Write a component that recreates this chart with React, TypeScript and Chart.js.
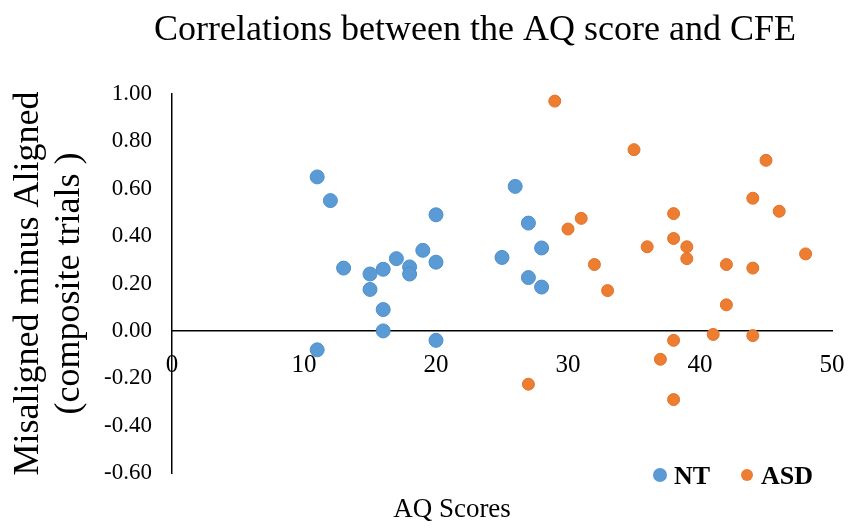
import React, { useEffect, useRef } from "react";
import { Chart, registerables } from "chart.js";

Chart.register(...registerables);

const chartTitle = "Correlations between the AQ score and CFE";
const xAxisTitle = "AQ Scores";
const yAxisTitle = ["Misaligned minus Aligned", "(composite trials )"];
const seriesNames = ["NT", "ASD"];

const ntAQ = [11, 12, 13, 15, 15, 16, 16, 16, 17, 18, 18, 19, 20, 20, 20, 11, 25, 26, 27, 28, 27, 28];
const ntCFE = [0.65, 0.55, 0.265, 0.24, 0.175, 0.26, 0.09, 0.0, 0.305, 0.27, 0.24, 0.34, 0.49, 0.29, -0.04, -0.08, 0.31, 0.61, 0.455, 0.35, 0.225, 0.185];

const asdAQ = [29, 35, 45, 44, 46, 31, 30, 38, 38, 36, 39, 39, 48, 32, 42, 44, 33, 42, 41, 44, 38, 37, 27, 38];
const asdCFE = [0.97, 0.765, 0.72, 0.56, 0.505, 0.475, 0.43, 0.495, 0.39, 0.355, 0.355, 0.305, 0.325, 0.28, 0.28, 0.265, 0.17, 0.11, -0.015, -0.02, -0.04, -0.12, -0.225, -0.29];

const xTicks = [0, 10, 20, 30, 40, 50];
const yTicks = [-0.6, -0.4, -0.2, 0, 0.2, 0.4, 0.6, 0.8, 1.0];

const ntColor = "#5B9BD5";
const asdColor = "#ED7D31";
const serif = '"Liberation Serif", "Times New Roman", serif';

const overlayPlugin = {
  id: "overlay",
  afterDraw(chart: any) {
    const ctx: CanvasRenderingContext2D = chart.ctx;
    ctx.save();
    ctx.fillStyle = "#000";
    ctx.textBaseline = "alphabetic";
    ctx.textAlign = "center";
    ctx.font = `36px ${serif}`;
    ctx.fillText(chartTitle, 475, 40);
    ctx.font = `27px ${serif}`;
    ctx.fillText(xAxisTitle, 452, 517);

    // legend
    const items = [
      { x: 660, ds: chart.data.datasets[0] },
      { x: 747, ds: chart.data.datasets[1] },
    ];
    ctx.font = `bold 26px ${serif}`;
    ctx.textAlign = "left";
    items.forEach((it) => {
      ctx.beginPath();
      ctx.fillStyle = it.ds.backgroundColor;
      ctx.arc(it.x, 475, it.ds.pointRadius, 0, Math.PI * 2);
      ctx.fill();
      ctx.fillStyle = "#000";
      ctx.fillText(it.ds.label, it.x + 14, 484);
    });
    ctx.restore();
  },
};

export default function App() {
  const ref = useRef<HTMLCanvasElement | null>(null);

  useEffect(() => {
    if (!ref.current) return;
    const chart = new Chart(ref.current, {
      type: "scatter",
      data: {
        datasets: [
          {
            label: seriesNames[0],
            data: ntAQ.map((x, i) => ({ x, y: ntCFE[i] })),
            backgroundColor: ntColor,
            borderColor: "#4F8FCB",
            borderWidth: 1,
            pointRadius: 7,
            pointHoverRadius: 7,
          },
          {
            label: seriesNames[1],
            data: asdAQ.map((x, i) => ({ x, y: asdCFE[i] })),
            backgroundColor: asdColor,
            borderColor: "#E0722A",
            borderWidth: 1,
            pointRadius: 6,
            pointHoverRadius: 6,
          },
        ],
      },
      options: {
        responsive: false,
        animation: false,
        events: [],
        layout: { padding: { left: 0, right: 19, top: 94, bottom: 57 } },
        plugins: {
          legend: { display: false },
          title: { display: false },
          tooltip: { enabled: false },
        },
        scales: {
          x: {
            type: "linear",
            position: { y: 0 } as any,
            min: 0,
            max: 50,
            afterBuildTicks: (scale: any) => {
              scale.ticks = xTicks.map((v) => ({ value: v }));
            },
            afterFit: (scale: any) => {
              scale.paddingLeft = 0;
              scale.paddingRight = 0;
            },
            grid: { display: false, drawTicks: false },
            border: { display: true, color: "#000", width: 1.5 },
            ticks: {
              color: "#000",
              padding: 20,
              font: { family: serif, size: 25 },
              maxRotation: 0,
              callback: (v: any) => String(v),
            },
          },
          y: {
            type: "linear",
            position: "left",
            min: -0.6,
            max: 1.0,
            afterBuildTicks: (scale: any) => {
              scale.ticks = yTicks.map((v) => ({ value: v }));
            },
            afterFit: (scale: any) => {
              scale.width = 172;
            },
            grid: { display: false, drawTicks: false },
            border: { display: true, color: "#000", width: 1.5 },
            ticks: {
              color: "#000",
              padding: 20,
              font: { family: serif, size: 23 },
              callback: (v: any) => {
                const n = Number(v);
                return (Math.abs(n) < 1e-9 ? 0 : n).toFixed(2);
              },
            },
            title: {
              display: true,
              text: yAxisTitle,
              color: "#000",
              font: { family: serif, size: 36, lineHeight: 1.14 },
              padding: { top: 8, bottom: 0 },
            },
          },
        },
      },
      plugins: [overlayPlugin],
    } as any);
    return () => chart.destroy();
  }, []);

  return (
    <div style={{ position: "absolute", left: 0, top: 0, width: 851, height: 530, background: "#fff" }}>
      <canvas ref={ref} width={851} height={530} />
    </div>
  );
}
